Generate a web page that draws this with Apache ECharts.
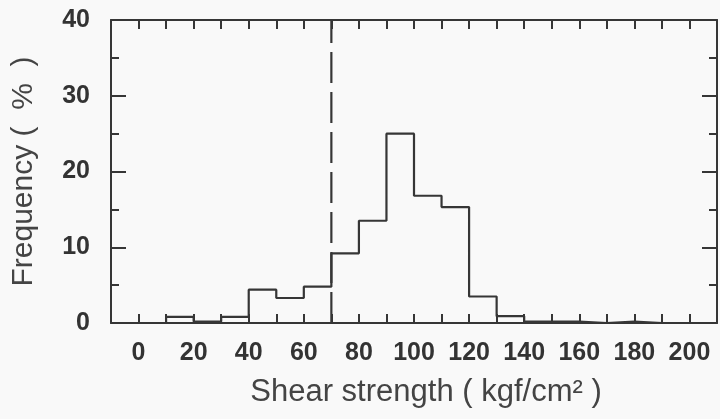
<!DOCTYPE html>
<html>
<head>
<meta charset="utf-8">
<script src="https://cdn.jsdelivr.net/npm/echarts@6/dist/echarts.min.js"></script>
<style>
  html, body { margin: 0; padding: 0; background: #f9f9f9; }
  #chart { width: 720px; height: 419px; }
</style>
</head>
<body>
<div id="chart"></div>
<script>
// Histogram bins: lower edges (kgf/cm²), bin width, and frequency (%) per bin
const binStarts = [0, 10, 20, 30, 40, 50, 60, 70, 80, 90, 100, 110, 120, 130, 140, 150, 160, 170, 180, 190];
const binWidth = 10;
const frequency = [0, 0.8, 0.2, 0.8, 4.4, 3.3, 4.8, 9.2, 13.5, 25.0, 16.8, 15.3, 3.5, 0.9, 0.2, 0.2, 0, 0.2, 0, 0];

// Threshold marked by the dashed vertical line
const threshold = 70;

// Axis tick labels
const xTickLabels = [0, 20, 40, 60, 80, 100, 120, 140, 160, 180, 200];
const yTickLabels = [0, 10, 20, 30, 40];

// Build the stepped outline of the histogram from the bins
const outline = [[binStarts[0], 0]];
binStarts.forEach((lo, i) => {
  outline.push([lo, frequency[i]]);
  outline.push([lo + binWidth, frequency[i]]);
});
outline.push([binStarts[binStarts.length - 1] + binWidth, 0]);

const ink = '#363636';
const font = '"Liberation Sans", Arial, Helvetica, sans-serif';

const xCommon = {
  type: 'value', min: -10, max: 210, interval: 10,
  axisLine: { show: true, onZero: false, lineStyle: { color: ink, width: 2 } },
  axisTick: { show: true, inside: true, length: 9, lineStyle: { color: ink, width: 2 } },
  splitLine: { show: false }
};
const yCommon = {
  type: 'value', min: 0, max: 40, interval: 10,
  axisLine: { show: true, onZero: false, lineStyle: { color: ink, width: 2 } },
  axisTick: { show: true, inside: true, length: 15, lineStyle: { color: ink, width: 2 } },
  minorTick: { show: true, splitNumber: 2, length: 8, lineStyle: { color: ink, width: 2 } },
  splitLine: { show: false }
};

const chart = echarts.init(document.getElementById('chart'), null, { renderer: 'canvas' });
chart.setOption({
  backgroundColor: '#f9f9f9',
  animation: false,
  grid: { left: 111, right: 2, top: 20, bottom: 96 },
  xAxis: [
    Object.assign({}, xCommon, {
      position: 'bottom',
      name: 'Shear strength ( kgf/cm² )',
      nameLocation: 'middle',
      nameGap: 54,
      nameTextStyle: { fontFamily: font, fontSize: 31, color: '#444', padding: [0, 0, 0, 24] },
      axisLabel: {
        show: true, margin: 18,
        fontFamily: font, fontSize: 25, fontWeight: 'bold', color: '#333',
        formatter: v => (xTickLabels.indexOf(v) >= 0 ? String(v) : '')
      }
    }),
    Object.assign({}, xCommon, { position: 'top', axisLabel: { show: false } })
  ],
  yAxis: [
    Object.assign({}, yCommon, {
      position: 'left',
      name: 'Frequency (  %  )',
      nameLocation: 'middle',
      nameGap: 72,
      nameTextStyle: { fontFamily: font, fontSize: 30, color: '#444' },
      axisLabel: {
        show: true, margin: 21,
        fontFamily: font, fontSize: 25, fontWeight: 'bold', color: '#333',
        formatter: v => (yTickLabels.indexOf(v) >= 0 ? String(v) : '')
      }
    }),
    Object.assign({}, yCommon, { position: 'right', axisLabel: { show: false } })
  ],
  series: [
    {
      type: 'line',
      data: outline,
      showSymbol: false,
      clip: false,
      lineStyle: { color: ink, width: 2.2 },
      silent: true
    },
    {
      type: 'line',
      data: [[threshold, 0], [threshold, 40]],
      showSymbol: false,
      lineStyle: { color: ink, width: 2.2, type: [31, 9] },
      silent: true
    }
  ]
});
</script>
</body>
</html>
